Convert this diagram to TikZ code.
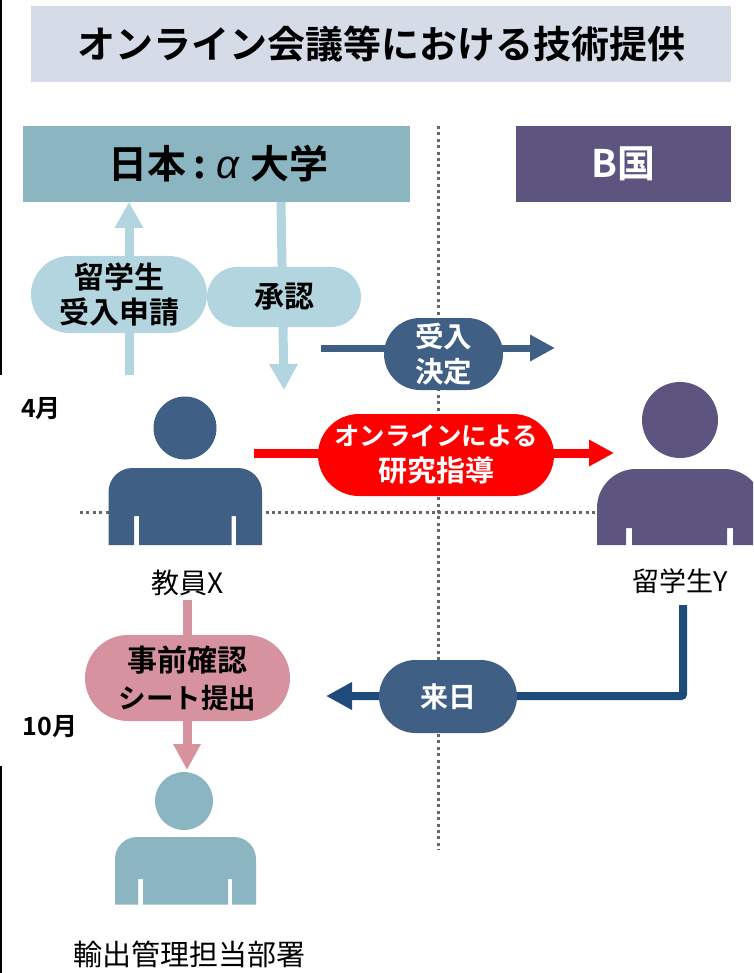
\documentclass[tikz,border=0pt]{standalone}
\usepackage{fontspec}
\setmainfont{Noto Sans CJK JP}
\newfontfamily\jb{Noto Sans CJK JP Bold}
\newfontfamily\ital{Liberation Sans Italic}
\usetikzlibrary{arrows.meta,shapes.misc}
\definecolor{titlebg}{HTML}{D5DCE8}
\definecolor{teal}{HTML}{8BB5C1}
\definecolor{purp}{HTML}{5E5480}
\definecolor{pale}{HTML}{B2D5DF}
\definecolor{navy}{HTML}{3F5F84}
\definecolor{deep}{HTML}{1F4A7C}
\definecolor{rose}{HTML}{D792A0}
\definecolor{dots}{HTML}{666666}
\newcommand{\fs}[2]{\fontsize{#1}{#2}\selectfont}
\tikzset{
 box/.style={rectangle,inner sep=0pt,anchor=center},
 pill/.style={rounded rectangle,inner sep=0pt,align=center,font=\jb\fs{30}{35}},
 pplarrow/.style={line width=9pt,color=pale,-{Triangle[length=26pt,width=27pt]}},
 dotline/.style={dots,line width=3pt,dash pattern=on 3pt off 3.4pt},
 lab/.style={inner sep=0pt,font=\fs{27}{30}},
 month/.style={inner sep=0pt,font=\jb\fs{25}{28}},
}
\begin{document}
\begin{tikzpicture}[x=1pt,y=-1pt]
\useasboundingbox (0,0) rectangle (753,973);
\clip (0,0) rectangle (753,973);
% page edge marks
\coordinate (e1) at (0.8,0); \coordinate (e2) at (0.8,375);
\coordinate (e3) at (0.8,766); \coordinate (e4) at (0.8,973);
\draw[black,line width=1.6pt] (e1) -- (e2) (e3) -- (e4);
% boxes
\node[box,fill=titlebg,minimum width=700pt,minimum height=76pt,font=\jb\fs{38}{40}] (title) at (381,44) {オンライン会議等における技術提供};
\node[box,fill=teal,minimum width=387pt,minimum height=76pt,font=\jb\fs{39}{42}] (jp) at (216.5,164) {\hspace*{4pt}日本\hspace{7pt}:\hspace{11pt}{\ital\fs{40}{42}α}\hspace{11pt}大学};
\node[box,fill=purp,minimum width=215pt,minimum height=76pt,text=white,font=\jb\fs{38}{42}] (bk) at (623.5,164) {B国};
% dotted axes
\coordinate (vt) at (438,126); \coordinate (vb) at (438,850);
\coordinate (hl) at (80,512.5); \coordinate (hr) at (600,512.5);
\draw[dotline] (vt) -- (vb);
\draw[dotline] (hl) -- (hr);
% connector ends
\coordinate (upS) at (129,375); \coordinate (upE) at (129,202);
\coordinate (dnS) at (281,202); \coordinate (dnE) at (284,390);
\coordinate (acS) at (321,348); \coordinate (acE) at (555,348);
\coordinate (olS) at (254,453); \coordinate (olE) at (614,453);
\coordinate (arS) at (683,605); \coordinate (arC) at (683,696); \coordinate (arE) at (326,696);
\coordinate (rsS) at (187,600); \coordinate (rsE) at (187,770);
\draw[pplarrow] (upS) -- (upE);
\draw[pplarrow] (dnS) -- (dnE);
\draw[navy,line width=7pt,-{Triangle[length=25pt,width=25pt]}] (acS) -- (acE);
\draw[red,line width=9pt,-{Triangle[length=25pt,width=25pt]}] (olS) -- (olE);
\draw[deep,line width=8pt,rounded corners=2pt,-{Triangle[length=26pt,width=26pt]}] (arS) -- (arC) -- (arE);
\draw[rose,line width=9pt,-{Triangle[length=26pt,width=26pt]}] (rsS) -- (rsE);
% pills
\node[pill,fill=pale,minimum width=176pt,minimum height=77pt] (apply) at (119,294.5) {留学生\\受入申請};
\node[pill,fill=pale,minimum width=154pt,minimum height=60pt] (ok) at (284,297) {承認};
\node[pill,fill=navy,text=white,minimum width=119pt,minimum height=72pt,font=\jb\fs{28.5}{35}] (acc) at (443.5,354) {受入\\決定};
\node[pill,fill=red,text=white,minimum width=236pt,minimum height=82pt,font=\jb\fs{25.5}{36}] (online) at (436,455) {オンラインによる\\{\fs{29}{36}研究指導}};
\node[pill,fill=navy,text=white,minimum width=138pt,minimum height=73pt,font=\jb\fs{28}{35}] (come) at (448,696.5) {来日};
\node[pill,fill=rose,minimum width=205pt,minimum height=86pt,font=\jb\fs{30}{37}] (sheet) at (187.5,678) {事前確認\\{\fs{27.5}{37}シート提出}};
% people
\fill[navy] (185,428) circle[radius=31.5];
\fill[navy] (108.5,545) -- (108.5,500) [rounded corners=24pt] -- (108.5,468) -- (262,468) [sharp corners] -- (262,500) -- (262,545) -- (236,545) -- (236,516) -- (231.5,516) -- (231.5,545) -- (139,545) -- (139,516) -- (134,516) -- (134,545) -- cycle;
\fill[purp] (680,420) circle[radius=38];
\fill[purp] (597,545) -- (597,520) [rounded corners=39pt] -- (597,469) -- (763,469) [sharp corners] -- (763,520) -- (763,545) -- (733,545) -- (733,528) -- (727,528) -- (727,545) -- (632,545) -- (632,528) -- (626,528) -- (626,545) -- cycle;
\fill[teal] (184,801) circle[radius=29];
\fill[teal] (115,904.5) -- (115,880) [rounded corners=22pt] -- (115,837) -- (256,837) [sharp corners] -- (256,880) -- (256,904.5) -- (232,904.5) -- (232,879) -- (228,879) -- (228,904.5) -- (143,904.5) -- (143,879) -- (138,879) -- (138,904.5) -- cycle;
% labels
\node[lab,font=\fs{28}{30}] (xl) at (188,583) {教員X};
\node[lab] (yl) at (680,581) {留学生Y};
\node[lab,font=\fs{29}{30}] (dept) at (189,954) {輸出管理担当部署};
\node[month] (apr) at (41,409) {4月};
\node[month] (oct) at (50,727) {10月};
\end{tikzpicture}
\end{document}
